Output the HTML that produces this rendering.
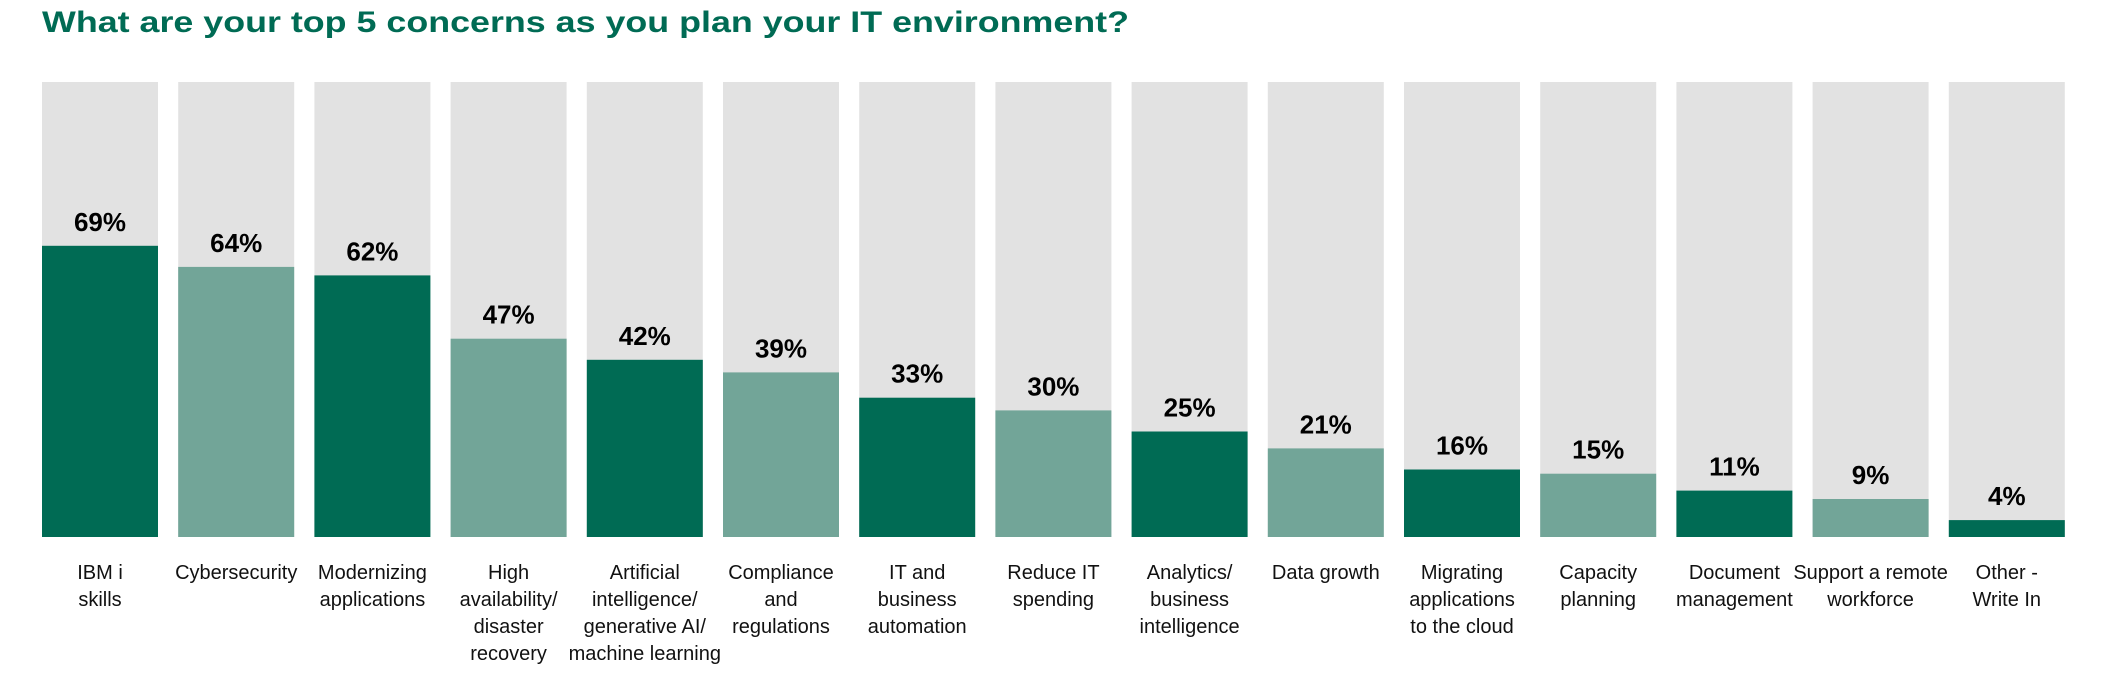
<!DOCTYPE html>
<html><head><meta charset="utf-8"><style>
html,body{margin:0;padding:0;background:#fff;}
svg{display:block;}
text{font-family:"Liberation Sans",sans-serif;}
.p{font-size:26px;font-weight:bold;text-anchor:middle;fill:#000;}
.c{font-size:20px;text-anchor:middle;fill:#111;}
.g{fill:#e2e2e2;}
.d{fill:#006b54;}
.l{fill:#72a598;}
</style></head><body>
<svg width="2112" height="675" viewBox="0 0 2112 675" xmlns="http://www.w3.org/2000/svg">
<text x="42" y="32" font-size="30" font-weight="bold" fill="#006b54" textLength="1087" lengthAdjust="spacingAndGlyphs">What are your top 5 concerns as you plan your IT environment?</text>

<rect class="g" x="42" y="82" width="116" height="455"/><rect class="d" x="42" y="245.8" width="116" height="291.2"/>
<text class="p" x="100" y="230.8">69%</text>
<text class="c" x="100" y="579">IBM i</text><text class="c" x="100" y="606">skills</text>

<rect class="g" x="178.2" y="82" width="116" height="455"/><rect class="l" x="178.2" y="266.9" width="116" height="270.1"/>
<text class="p" x="236.2" y="251.9">64%</text>
<text class="c" x="236.2" y="579">Cybersecurity</text>

<rect class="g" x="314.4" y="82" width="116" height="455"/><rect class="d" x="314.4" y="275.4" width="116" height="261.6"/>
<text class="p" x="372.4" y="260.4">62%</text>
<text class="c" x="372.4" y="579">Modernizing</text><text class="c" x="372.4" y="606">applications</text>

<rect class="g" x="450.6" y="82" width="116" height="455"/><rect class="l" x="450.6" y="338.7" width="116" height="198.3"/>
<text class="p" x="508.6" y="323.7">47%</text>
<text class="c" x="508.6" y="579">High</text><text class="c" x="508.6" y="606">availability/</text><text class="c" x="508.6" y="633">disaster</text><text class="c" x="508.6" y="660">recovery</text>

<rect class="g" x="586.8" y="82" width="116" height="455"/><rect class="d" x="586.8" y="359.8" width="116" height="177.2"/>
<text class="p" x="644.8" y="344.8">42%</text>
<text class="c" x="644.8" y="579">Artificial</text><text class="c" x="644.8" y="606">intelligence/</text><text class="c" x="644.8" y="633">generative AI/</text><text class="c" x="644.8" y="660">machine learning</text>

<rect class="g" x="723" y="82" width="116" height="455"/><rect class="l" x="723" y="372.4" width="116" height="164.6"/>
<text class="p" x="781" y="357.4">39%</text>
<text class="c" x="781" y="579">Compliance</text><text class="c" x="781" y="606">and</text><text class="c" x="781" y="633">regulations</text>

<rect class="g" x="859.2" y="82" width="116" height="455"/><rect class="d" x="859.2" y="397.7" width="116" height="139.3"/>
<text class="p" x="917.2" y="382.7">33%</text>
<text class="c" x="917.2" y="579">IT and</text><text class="c" x="917.2" y="606">business</text><text class="c" x="917.2" y="633">automation</text>

<rect class="g" x="995.4" y="82" width="116" height="455"/><rect class="l" x="995.4" y="410.4" width="116" height="126.6"/>
<text class="p" x="1053.4" y="395.4">30%</text>
<text class="c" x="1053.4" y="579">Reduce IT</text><text class="c" x="1053.4" y="606">spending</text>

<rect class="g" x="1131.6" y="82" width="116" height="455"/><rect class="d" x="1131.6" y="431.5" width="116" height="105.5"/>
<text class="p" x="1189.6" y="416.5">25%</text>
<text class="c" x="1189.6" y="579">Analytics/</text><text class="c" x="1189.6" y="606">business</text><text class="c" x="1189.6" y="633">intelligence</text>

<rect class="g" x="1267.8" y="82" width="116" height="455"/><rect class="l" x="1267.8" y="448.4" width="116" height="88.6"/>
<text class="p" x="1325.8" y="433.4">21%</text>
<text class="c" x="1325.8" y="579">Data growth</text>

<rect class="g" x="1404" y="82" width="116" height="455"/><rect class="d" x="1404" y="469.5" width="116" height="67.5"/>
<text class="p" x="1462" y="454.5">16%</text>
<text class="c" x="1462" y="579">Migrating</text><text class="c" x="1462" y="606">applications</text><text class="c" x="1462" y="633">to the cloud</text>

<rect class="g" x="1540.2" y="82" width="116" height="455"/><rect class="l" x="1540.2" y="473.7" width="116" height="63.3"/>
<text class="p" x="1598.2" y="458.7">15%</text>
<text class="c" x="1598.2" y="579">Capacity</text><text class="c" x="1598.2" y="606">planning</text>

<rect class="g" x="1676.4" y="82" width="116" height="455"/><rect class="d" x="1676.4" y="490.6" width="116" height="46.4"/>
<text class="p" x="1734.4" y="475.6">11%</text>
<text class="c" x="1734.4" y="579">Document</text><text class="c" x="1734.4" y="606">management</text>

<rect class="g" x="1812.6" y="82" width="116" height="455"/><rect class="l" x="1812.6" y="499" width="116" height="38"/>
<text class="p" x="1870.6" y="484">9%</text>
<text class="c" x="1870.6" y="579">Support a remote</text><text class="c" x="1870.6" y="606">workforce</text>

<rect class="g" x="1948.8" y="82" width="116" height="455"/><rect class="d" x="1948.8" y="520.1" width="116" height="16.9"/>
<text class="p" x="2006.8" y="505.1">4%</text>
<text class="c" x="2006.8" y="579">Other -</text><text class="c" x="2006.8" y="606">Write In</text>
</svg>
</body></html>
